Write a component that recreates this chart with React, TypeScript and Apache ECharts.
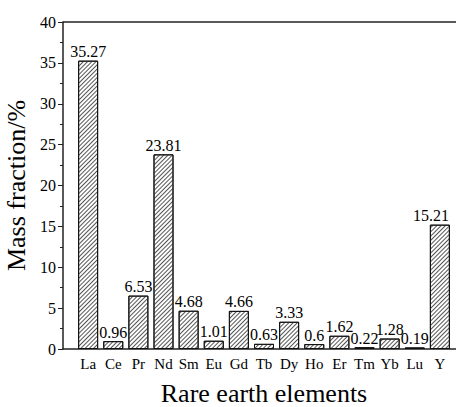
import React, { useEffect, useRef } from "react";
import * as echarts from "echarts";

const categories = ["La", "Ce", "Pr", "Nd", "Sm", "Eu", "Gd", "Tb", "Dy", "Ho", "Er", "Tm", "Yb", "Lu", "Y"];
const values = [35.27, 0.96, 6.53, 23.81, 4.68, 1.01, 4.66, 0.63, 3.33, 0.6, 1.62, 0.22, 1.28, 0.19, 15.21];
const yTicks = [0, 5, 10, 15, 20, 25, 30, 35, 40];

const FONT = "'Liberation Serif', 'Times New Roman', serif";

export default function App() {
  const ref = useRef<HTMLDivElement>(null);
  useEffect(() => {
    if (!ref.current) return;
    const chart = echarts.init(ref.current, undefined, { renderer: "svg" });
    chart.setOption({
      animation: false,
      backgroundColor: "#fff",
      grid: { left: 63, width: 402, top: 22, height: 327, containLabel: false, outerBoundsMode: "none" },
      xAxis: {
        type: "value",
        min: 0,
        max: categories.length + 1,
        interval: 1,
        name: "Rare earth elements",
        nameLocation: "middle",
        nameGap: 31,
        nameTextStyle: { fontFamily: FONT, fontSize: 26, color: "#000" },
        axisLine: { show: true, onZero: false, lineStyle: { color: "#222", width: 1.5 } },
        axisTick: { show: false },
        splitLine: { show: false },
        axisLabel: {
          fontFamily: FONT,
          fontSize: 15,
          color: "#000",
          margin: 7,
          formatter: (v: number) => (v >= 1 && v <= categories.length ? categories[v - 1] : ""),
        },
      },
      yAxis: {
        type: "value",
        min: yTicks[0],
        max: yTicks[yTicks.length - 1],
        interval: 5,
        name: "Mass fraction/%",
        nameLocation: "middle",
        nameGap: 31,
        nameTextStyle: { fontFamily: FONT, fontSize: 26, color: "#000" },
        axisLine: { show: true, lineStyle: { color: "#222", width: 1.5 } },
        axisTick: { show: true, inside: false, length: 5, lineStyle: { color: "#222" } },
        minorTick: { show: true, splitNumber: 2, length: 3, lineStyle: { color: "#222" } },
        splitLine: { show: false },
        axisLabel: { fontFamily: FONT, fontSize: 16, color: "#000", margin: 7 },
      },
      graphic: [
        {
          type: "line",
          shape: { x1: 63, y1: 22, x2: 456, y2: 22 },
          style: { stroke: "#222", lineWidth: 1.5 },
        },
      ],
      series: [
        {
          type: "bar",
          barWidth: 20,
          data: values.map((v, i) =>
            i === values.length - 1
              ? { value: [i + 1, v], label: { offset: [-9, 0] } }
              : [i + 1, v]
          ),
          itemStyle: {
            color: "#fff",
            borderColor: "#111",
            borderWidth: 1,
            decal: {
              symbol: "rect",
              symbolSize: 1,
              color: "#555",
              backgroundColor: "#fff",
              dashArrayX: [1, 0],
              dashArrayY: [1, 2],
              rotation: -Math.PI / 4,
            },
          },
          label: {
            show: true,
            position: "top",
            distance: 1,
            fontFamily: FONT,
            fontSize: 16,
            color: "#000",
            formatter: (p: any) => String(p.value[1]),
          },
        },
      ],
    });
    return () => chart.dispose();
  }, []);
  return <div ref={ref} style={{ width: 456, height: 407, position: "absolute", left: 0, top: 0 }} />;
}
